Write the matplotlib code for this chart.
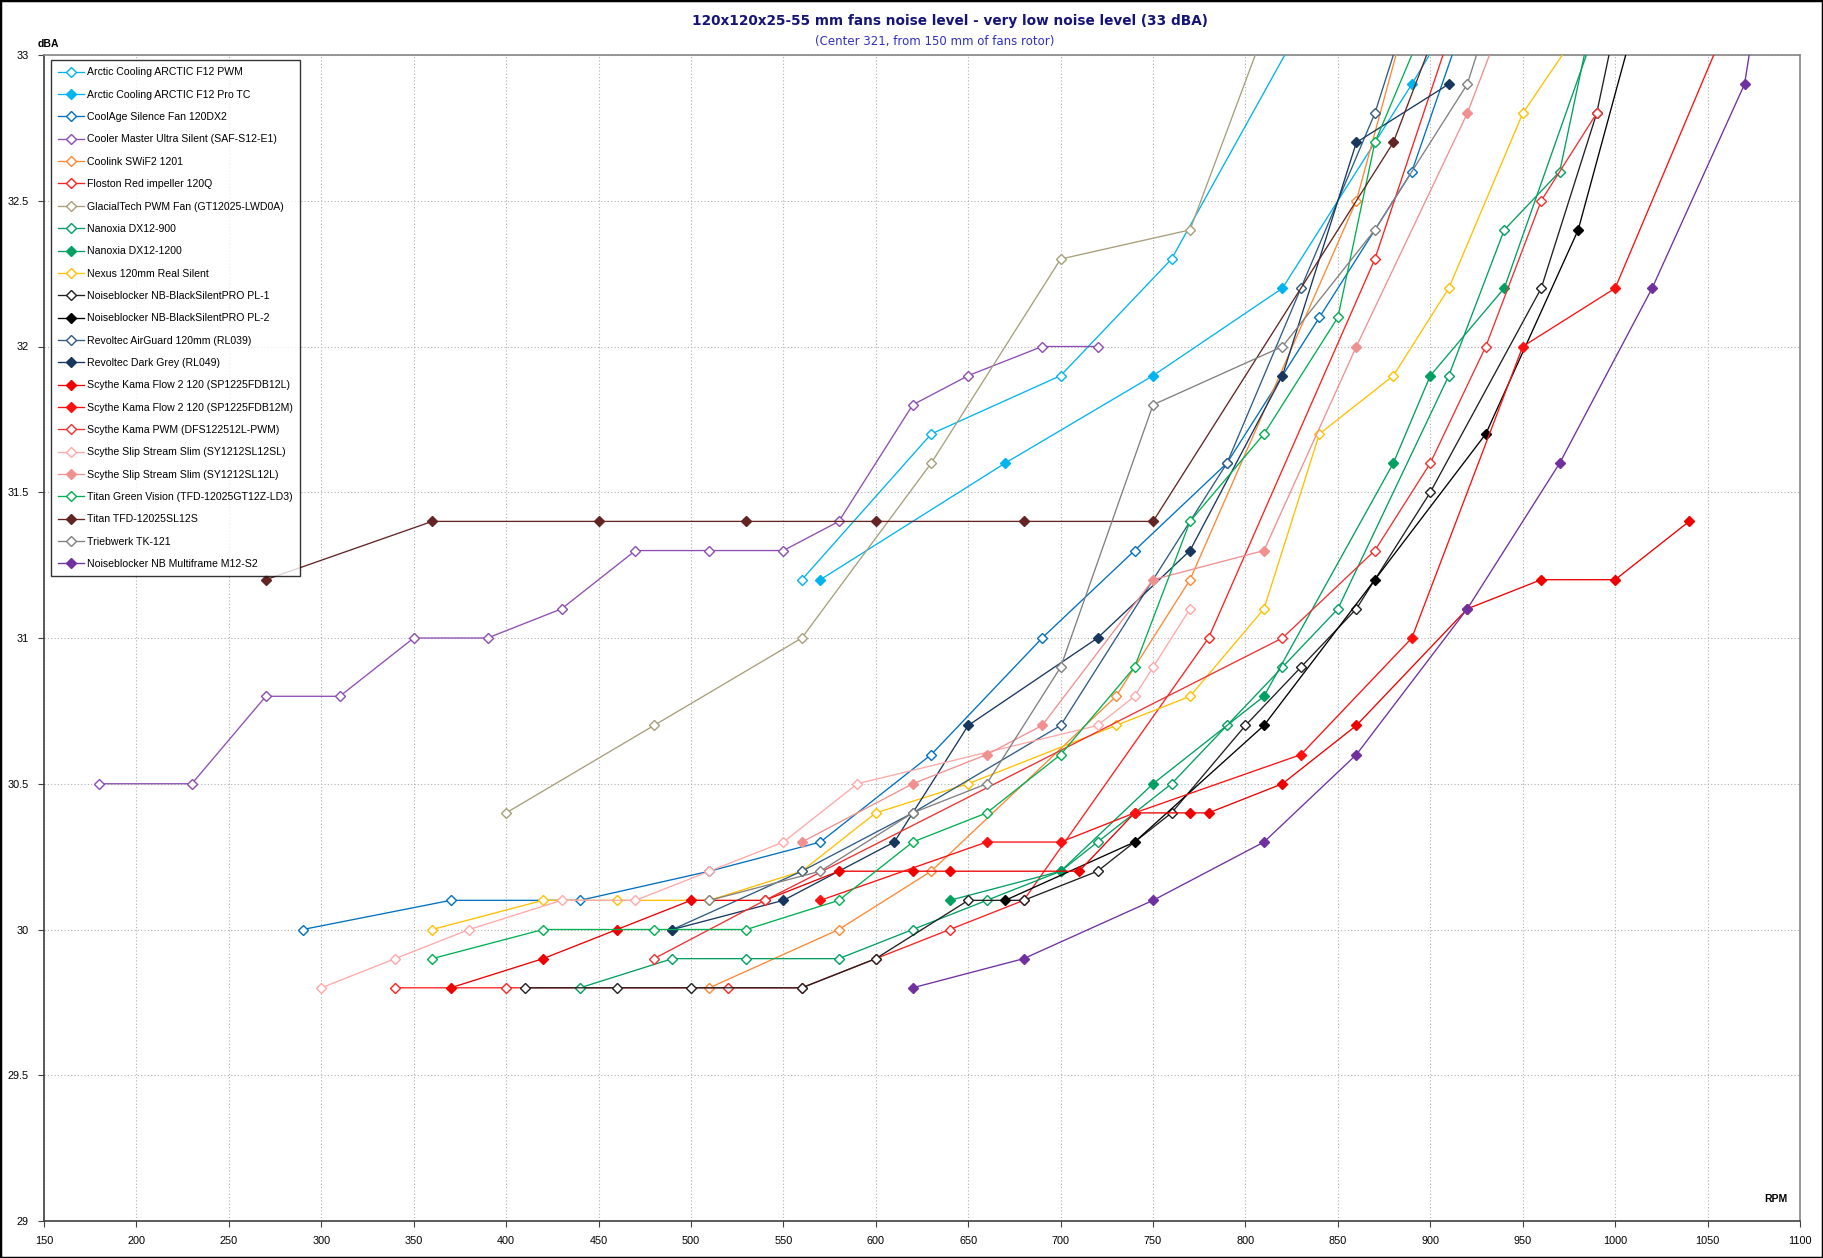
import matplotlib
matplotlib.use("Agg")
import matplotlib.pyplot as plt
from matplotlib.patches import Rectangle
from matplotlib.ticker import FormatStrFormatter

plt.rcParams['font.family'] = ['Liberation Sans', 'DejaVu Sans']

# ---------------- data ----------------
rpm_f12_pwm = [560, 630, 700, 760, 830]
dba_f12_pwm = [31.2, 31.7, 31.9, 32.3, 33.1]

rpm_f12_pro = [570, 670, 750, 820, 890, 910]
dba_f12_pro = [31.2, 31.6, 31.9, 32.2, 32.9, 33.11]

rpm_coolage = [290, 370, 440, 510, 570, 630, 690, 740, 790, 840, 890, 920]
dba_coolage = [30.0, 30.1, 30.1, 30.2, 30.3, 30.6, 31.0, 31.3, 31.6, 32.1, 32.6, 33.15]

rpm_cm = [180, 230, 270, 310, 350, 390, 430, 470, 510, 550, 580, 620, 650, 690, 720]
dba_cm = [30.5, 30.5, 30.8, 30.8, 31.0, 31.0, 31.1, 31.3, 31.3, 31.3, 31.4, 31.8, 31.9, 32.0, 32.0]

rpm_coolink = [510, 580, 630, 730, 770, 860, 890]
dba_coolink = [29.8, 30.0, 30.2, 30.8, 31.2, 32.5, 33.2]

rpm_floston = [340, 400, 520, 560, 600, 640, 680, 780, 870, 910]
dba_floston = [29.8, 29.8, 29.8, 29.8, 29.9, 30.0, 30.1, 31.0, 32.3, 33.06]

rpm_glacial = [400, 480, 560, 630, 700, 770, 820]
dba_glacial = [30.4, 30.7, 31.0, 31.6, 32.3, 32.4, 33.25]

rpm_nano900 = [440, 490, 530, 580, 620, 660, 700, 720, 760, 790, 820, 850, 910, 940, 970, 990]
dba_nano900 = [29.8, 29.9, 29.9, 29.9, 30.0, 30.1, 30.2, 30.3, 30.5, 30.7, 30.9, 31.1, 31.9, 32.4, 32.6, 33.2]

rpm_nano1200 = [640, 700, 750, 810, 880, 900, 940, 990]
dba_nano1200 = [30.1, 30.2, 30.5, 30.8, 31.6, 31.9, 32.2, 33.1]

rpm_nexus = [360, 420, 460, 510, 560, 600, 650, 730, 770, 810, 840, 880, 910, 950, 980]
dba_nexus = [30.0, 30.1, 30.1, 30.1, 30.2, 30.4, 30.5, 30.7, 30.8, 31.1, 31.7, 31.9, 32.2, 32.8, 33.08]

rpm_pl1 = [410, 460, 500, 560, 600, 650, 680, 720, 760, 800, 830, 860, 900, 960, 990, 1000]
dba_pl1 = [29.8, 29.8, 29.8, 29.8, 29.9, 30.1, 30.1, 30.2, 30.4, 30.7, 30.9, 31.1, 31.5, 32.2, 32.8, 33.1]

rpm_pl2 = [670, 740, 810, 870, 930, 980, 1010]
dba_pl2 = [30.1, 30.3, 30.7, 31.2, 31.7, 32.4, 33.1]

rpm_airguard = [490, 560, 620, 700, 790, 830, 870, 890]
dba_airguard = [30.0, 30.2, 30.4, 30.7, 31.6, 32.2, 32.8, 33.2]

rpm_darkgrey = [490, 550, 610, 650, 720, 770, 820, 860, 910]
dba_darkgrey = [30.0, 30.1, 30.3, 30.7, 31.0, 31.3, 31.9, 32.7, 32.9]

rpm_kf_l = [370, 420, 460, 500, 540, 580, 620, 640, 710, 740, 770, 780, 820, 860, 920, 960, 1000, 1040]
dba_kf_l = [29.8, 29.9, 30.0, 30.1, 30.1, 30.2, 30.2, 30.2, 30.2, 30.4, 30.4, 30.4, 30.5, 30.7, 31.1, 31.2, 31.2, 31.4]

rpm_kf_m = [570, 660, 700, 740, 830, 890, 950, 1000, 1060]
dba_kf_m = [30.1, 30.3, 30.3, 30.4, 30.6, 31.0, 32.0, 32.2, 33.1]

rpm_kama_pwm = [480, 540, 820, 870, 900, 930, 960, 990]
dba_kama_pwm = [29.9, 30.1, 31.0, 31.3, 31.6, 32.0, 32.5, 32.8]

rpm_slip_sl = [300, 340, 380, 430, 470, 510, 550, 590, 720, 740, 750, 770]
dba_slip_sl = [29.8, 29.9, 30.0, 30.1, 30.1, 30.2, 30.3, 30.5, 30.7, 30.8, 30.9, 31.1]

rpm_slip_l = [560, 620, 660, 690, 750, 810, 860, 920, 950]
dba_slip_l = [30.3, 30.5, 30.6, 30.7, 31.2, 31.3, 32.0, 32.8, 33.3]

rpm_titan_gv = [360, 420, 480, 530, 580, 620, 660, 700, 740, 770, 810, 850, 870, 900]
dba_titan_gv = [29.9, 30.0, 30.0, 30.0, 30.1, 30.3, 30.4, 30.6, 30.9, 31.4, 31.7, 32.1, 32.7, 33.15]

rpm_titan_sl = [270, 360, 450, 530, 600, 680, 750, 880, 910]
dba_titan_sl = [31.2, 31.4, 31.4, 31.4, 31.4, 31.4, 31.4, 32.7, 33.2]

rpm_triebwerk = [510, 570, 620, 660, 700, 750, 820, 870, 920, 935]
dba_triebwerk = [30.1, 30.2, 30.4, 30.5, 30.9, 31.8, 32.0, 32.4, 32.9, 33.2]

rpm_multiframe = [620, 680, 750, 810, 860, 920, 970, 1020, 1070, 1080]
dba_multiframe = [29.8, 29.9, 30.1, 30.3, 30.6, 31.1, 31.6, 32.2, 32.9, 33.3]

x_ticks = [150, 200, 250, 300, 350, 400, 450, 500, 550, 600, 650, 700,
           750, 800, 850, 900, 950, 1000, 1050, 1100]
y_ticks = [29, 29.5, 30, 30.5, 31, 31.5, 32, 32.5, 33]

series = [
    ("Arctic Cooling ARCTIC F12 PWM", rpm_f12_pwm, dba_f12_pwm, "#00B4F0", False),
    ("Arctic Cooling ARCTIC F12 Pro TC", rpm_f12_pro, dba_f12_pro, "#00B4F0", True),
    ("CoolAge Silence Fan 120DX2", rpm_coolage, dba_coolage, "#0070C0", False),
    ("Cooler Master Ultra Silent (SAF-S12-E1)", rpm_cm, dba_cm, "#8E4DB5", False),
    ("Coolink SWiF2 1201", rpm_coolink, dba_coolink, "#FF8833", False),
    ("Floston Red impeller 120Q", rpm_floston, dba_floston, "#FF2020", False),
    ("GlacialTech PWM Fan (GT12025-LWD0A)", rpm_glacial, dba_glacial, "#A89F7A", False),
    ("Nanoxia DX12-900", rpm_nano900, dba_nano900, "#00A060", False),
    ("Nanoxia DX12-1200", rpm_nano1200, dba_nano1200, "#00A060", True),
    ("Nexus 120mm Real Silent", rpm_nexus, dba_nexus, "#FFC000", False),
    ("Noiseblocker NB-BlackSilentPRO PL-1", rpm_pl1, dba_pl1, "#202020", False),
    ("Noiseblocker NB-BlackSilentPRO PL-2", rpm_pl2, dba_pl2, "#000000", True),
    ("Revoltec AirGuard 120mm (RL039)", rpm_airguard, dba_airguard, "#2E5C85", False),
    ("Revoltec Dark Grey (RL049)", rpm_darkgrey, dba_darkgrey, "#17375E", True),
    ("Scythe Kama Flow 2 120 (SP1225FDB12L)", rpm_kf_l, dba_kf_l, "#EE0000", True),
    ("Scythe Kama Flow 2 120 (SP1225FDB12M)", rpm_kf_m, dba_kf_m, "#FF1010", True),
    ("Scythe Kama PWM (DFS122512L-PWM)", rpm_kama_pwm, dba_kama_pwm, "#F03030", False),
    ("Scythe Slip Stream Slim (SY1212SL12SL)", rpm_slip_sl, dba_slip_sl, "#FFA8A8", False),
    ("Scythe Slip Stream Slim (SY1212SL12L)", rpm_slip_l, dba_slip_l, "#F09090", True),
    ("Titan Green Vision (TFD-12025GT12Z-LD3)", rpm_titan_gv, dba_titan_gv, "#00B050", False),
    ("Titan TFD-12025SL12S", rpm_titan_sl, dba_titan_sl, "#632523", True),
    ("Triebwerk TK-121", rpm_triebwerk, dba_triebwerk, "#808080", False),
    ("Noiseblocker NB Multiframe M12-S2", rpm_multiframe, dba_multiframe, "#7030A0", True),
]

# ---------------- figure ----------------
W, H = 1823, 1258
fig = plt.figure(figsize=(W / 100, H / 100), dpi=100)
fig.patch.set_facecolor("white")
ax = fig.add_axes([44 / W, 1 - 1221 / H, (1800 - 44) / W, (1221 - 55) / H])

for name, xs, ys, col, fill in series:
    ax.plot(xs, ys, color=col, lw=0.95, marker="D", ms=4.6,
            mfc=col if fill else "white", mec=col, mew=1.0, label=name,
            clip_on=True, zorder=3)

ax.set_xlim(150, 1100)
ax.set_ylim(29, 33)
ax.set_xticks(x_ticks)
ax.set_yticks(y_ticks)
ax.yaxis.set_major_formatter(FormatStrFormatter('%g'))
ax.grid(True, color="#B0B0B0", ls=(0, (1, 2)), lw=0.8, zorder=0)
ax.tick_params(axis="both", labelsize=7.8, length=4, width=0.8, color="#404040",
               direction="out", pad=7)

for s in ["top", "right"]:
    ax.spines[s].set_color("#868686")
    ax.spines[s].set_linewidth(1.2)
for s in ["left", "bottom"]:
    ax.spines[s].set_color("#404040")
    ax.spines[s].set_linewidth(1.2)

leg = ax.legend(loc="upper left", bbox_to_anchor=(0.004, 0.9957), borderaxespad=0,
                fontsize=7.6, frameon=True, fancybox=False, edgecolor="black",
                labelspacing=1.17, handlelength=2.4, handletextpad=0.3,
                borderpad=0.7)
leg.get_frame().set_linewidth(1.0)
leg.set_zorder(5)

fig.text(950 / W, 1 - 21 / H, "120x120x25-55 mm fans noise level - very low noise level (33 dBA)",
         ha="center", va="center", fontsize=9.8, fontweight="bold", color="#14147A",
         family=["Liberation Sans Narrow", "DejaVu Sans"])
fig.text(935 / W, 1 - 41 / H, "(Center 321, from 150 mm of fans rotor)",
         ha="center", va="center", fontsize=8.5, color="#3030C0",
         family=["Liberation Sans Narrow", "DejaVu Sans"])
fig.text(48 / W, 1 - 44 / H, "dBA", ha="center", va="center", fontsize=7.5,
         fontweight="bold", color="black")
fig.text(1776 / W, 1 - 1199 / H, "RPM", ha="center", va="center", fontsize=7.5,
         fontweight="bold", color="black")

fig.patches.append(Rectangle((0, 0), 1, 1, transform=fig.transFigure, fill=False,
                             edgecolor="black", lw=2.5))

fig.savefig("out.png", dpi=100)
